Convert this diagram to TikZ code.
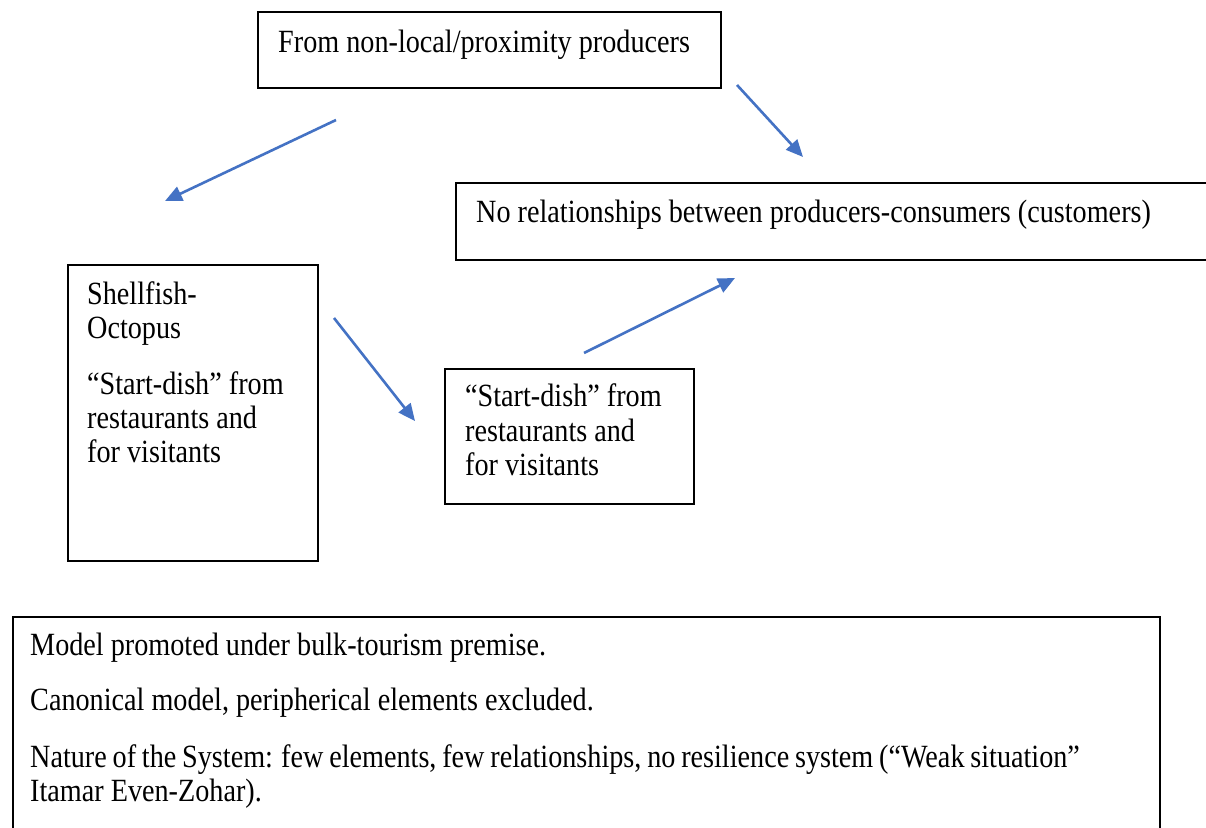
\documentclass[tikz,border=0pt]{standalone}
\usepackage{fontspec}
\setmainfont{Liberation Serif}[FakeStretch=0.87]
\usetikzlibrary{arrows.meta}
\definecolor{arrowblue}{RGB}{68,114,196}
\tikzset{
  box/.style={draw=black, line width=2.8pt, fill=none},
  txt/.style={anchor=base west, inner sep=0pt, font=\fontsize{32.4}{36}\selectfont},
  link/.style={draw=arrowblue, line width=2.6pt, -{Triangle[length=17pt,width=15pt]}}
}
\begin{document}
\begin{tikzpicture}[x=1pt,y=-1pt]
\useasboundingbox (0,0) rectangle (1206,827);
\fill[white] (0,0) rectangle (1206,827);
\begin{scope}
\clip (0,0) rectangle (1206,827);
% boxes
\draw[box] (258,12) rectangle (721,88);
\draw[box] (456,183) rectangle (1215,260);
\draw[box] (68,265) rectangle (318,561);
\draw[box] (445,369) rectangle (694,504);
\draw[box] (13,617) rectangle (1160,845);
\end{scope}
% texts
\node[txt] (top) at (278,52) {From non-local/proximity producers};
\node[txt] (right) at (476,222) {No relationships between producers-consumers (customers)};
\node[txt] (l1) at (87,304) {Shellfish-};
\node[txt] (l2) at (87,338) {Octopus};
\node[txt] (l3) at (87,394) {“Start-dish” from};
\node[txt] (l4) at (87,428) {restaurants and};
\node[txt] (l5) at (87,462) {for visitants};
\node[txt] (m1) at (465,406) {“Start-dish” from};
\node[txt] (m2) at (465,441) {restaurants and};
\node[txt] (m3) at (465,475) {for visitants};
\node[txt] (b1) at (30,655) {Model promoted under bulk-tourism premise.};
\node[txt] (b2) at (30,710) {Canonical model, peripherical elements excluded.};
\node[txt] (b3) at (30,767) {\spaceskip=5.8pt Nature of the System: few elements, few relationships, no resilience system (“Weak situation”};
\node[txt] (b4) at (30,801) {Itamar Even-Zohar).};
% arrows
\coordinate (a1s) at (336,120); \coordinate (a1e) at (165,201);
\coordinate (a2s) at (737,85);  \coordinate (a2e) at (803,157);
\coordinate (a3s) at (334,318); \coordinate (a3e) at (415,421);
\coordinate (a4s) at (584,353); \coordinate (a4e) at (735,278);
\draw[link] (a1s) -- (a1e);
\draw[link] (a2s) -- (a2e);
\draw[link] (a3s) -- (a3e);
\draw[link] (a4s) -- (a4e);
\end{tikzpicture}
\end{document}
